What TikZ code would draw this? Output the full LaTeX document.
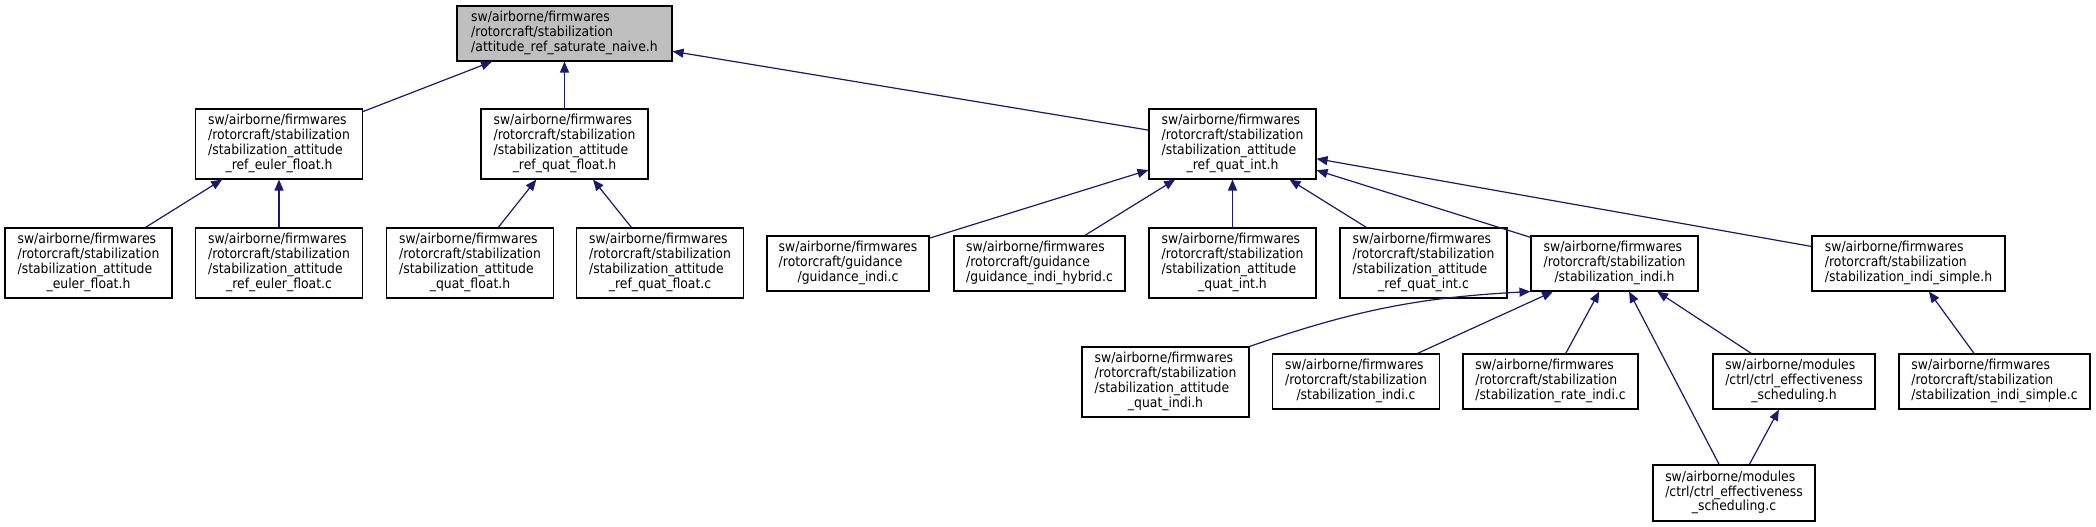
\documentclass[tikz,border=0pt]{standalone}
\usepackage{fontspec}
\setmainfont{DejaVu Sans}[FakeStretch=0.9]
\usetikzlibrary{arrows.meta}
\definecolor{edgeBlue}{HTML}{191970}
\definecolor{rootGrey}{HTML}{BFBFBF}
\newcommand{\fpath}[2]{\begin{tabular}{@{}l@{}}#1\\\multicolumn{1}{@{}c@{}}{#2}\end{tabular}}

\begin{document}
\begin{tikzpicture}[x=1pt, y=-1pt,
    filenode/.style={
      rectangle, draw=black, line width=1.1pt, fill=white, inner sep=0pt,
      font=\fontsize{13.8pt}{14.6pt}\selectfont, minimum height=70pt, minimum width=167pt
    },
    shortnode/.style={filenode, minimum height=55pt},
    incarr/.style={-{Triangle[length=11pt,width=9pt]}, draw=edgeBlue, line width=1.2pt}
  ]
  \useasboundingbox (0,0) rectangle (2096,527);

  % top
  \node[shortnode, fill=rootGrey, minimum width=215pt] (root) at (564.5,33.5)
    {\fpath{sw/airborne/firmwares\\/rotorcraft/stabilization}{/attitude\_ref\_saturate\_naive.h}};

  % second row
  \node[filenode] (erh) at (279,144)
    {\fpath{sw/airborne/firmwares\\/rotorcraft/stabilization\\/stabilization\_attitude}{\_ref\_euler\_float.h}};
  \node[filenode] (qfh) at (564.5,144)
    {\fpath{sw/airborne/firmwares\\/rotorcraft/stabilization\\/stabilization\_attitude}{\_ref\_quat\_float.h}};
  \node[filenode] (rqih) at (1232.5,144)
    {\fpath{sw/airborne/firmwares\\/rotorcraft/stabilization\\/stabilization\_attitude}{\_ref\_quat\_int.h}};

  % third row
  \node[filenode] (efh) at (88.5,263)
    {\fpath{sw/airborne/firmwares\\/rotorcraft/stabilization\\/stabilization\_attitude}{\_euler\_float.h}};
  \node[filenode] (refc) at (279,263)
    {\fpath{sw/airborne/firmwares\\/rotorcraft/stabilization\\/stabilization\_attitude}{\_ref\_euler\_float.c}};
  \node[filenode] (qflh) at (470,263)
    {\fpath{sw/airborne/firmwares\\/rotorcraft/stabilization\\/stabilization\_attitude}{\_quat\_float.h}};
  \node[filenode] (rqfc) at (660,263)
    {\fpath{sw/airborne/firmwares\\/rotorcraft/stabilization\\/stabilization\_attitude}{\_ref\_quat\_float.c}};
  \node[shortnode, minimum width=162pt] (gic) at (848,263.5)
    {\fpath{sw/airborne/firmwares\\/rotorcraft/guidance}{/guidance\_indi.c}};
  \node[shortnode, minimum width=171pt] (gihc) at (1039.5,263.5)
    {\fpath{sw/airborne/firmwares\\/rotorcraft/guidance}{/guidance\_indi\_hybrid.c}};
  \node[filenode] (qih) at (1232.5,263)
    {\fpath{sw/airborne/firmwares\\/rotorcraft/stabilization\\/stabilization\_attitude}{\_quat\_int.h}};
  \node[filenode] (rqic) at (1423.5,263)
    {\fpath{sw/airborne/firmwares\\/rotorcraft/stabilization\\/stabilization\_attitude}{\_ref\_quat\_int.c}};
  \node[shortnode] (sih) at (1614.5,263.5)
    {\fpath{sw/airborne/firmwares\\/rotorcraft/stabilization}{/stabilization\_indi.h}};
  \node[shortnode, minimum width=193pt] (sish) at (1908.5,263.5)
    {\fpath{sw/airborne/firmwares\\/rotorcraft/stabilization}{/stabilization\_indi\_simple.h}};

  % fourth row
  \node[filenode] (qindih) at (1165.5,382)
    {\fpath{sw/airborne/firmwares\\/rotorcraft/stabilization\\/stabilization\_attitude}{\_quat\_indi.h}};
  \node[shortnode] (sic) at (1356,381.5)
    {\fpath{sw/airborne/firmwares\\/rotorcraft/stabilization}{/stabilization\_indi.c}};
  \node[shortnode, minimum width=175pt] (ric) at (1550.5,381.5)
    {\fpath{sw/airborne/firmwares\\/rotorcraft/stabilization}{/stabilization\_rate\_indi.c}};
  \node[shortnode, minimum width=162pt] (cesh) at (1794,381.5)
    {\fpath{sw/airborne/modules\\/ctrl/ctrl\_effectiveness}{\_scheduling.h}};
  \node[shortnode, minimum width=191pt] (sisc) at (1994.5,381.5)
    {\fpath{sw/airborne/firmwares\\/rotorcraft/stabilization}{/stabilization\_indi\_simple.c}};

  % bottom
  \node[shortnode, minimum width=162pt, minimum height=56pt] (cesc) at (1734,493)
    {\fpath{sw/airborne/modules\\/ctrl/ctrl\_effectiveness}{\_scheduling.c}};

  % includes
  \draw[incarr] (erh) -- (root);
  \draw[incarr] (qfh) -- (root);
  \draw[incarr] (rqih) -- (root);
  \draw[incarr] (efh) -- (erh);
  \draw[incarr] (refc) -- (erh);
  \draw[incarr] (qflh) -- (qfh);
  \draw[incarr] (rqfc) -- (qfh);
  \draw[incarr] (gic) -- (rqih);
  \draw[incarr] (gihc) -- (rqih);
  \draw[incarr] (qih) -- (rqih);
  \draw[incarr] (rqic) -- (rqih);
  \draw[incarr] (sih) -- (rqih);
  \draw[incarr] (sish) -- (rqih);
  \draw[incarr] (qindih.north east) to[bend left=8] (sih.south west);
  \draw[incarr] (sic) -- (sih);
  \draw[incarr] (ric) -- (sih);
  \draw[incarr] (cesc) -- (sih);
  \draw[incarr] (cesh) -- (sih);
  \draw[incarr] (cesc) -- (cesh);
  \draw[incarr] (sisc) -- (sish);
\end{tikzpicture}
\end{document}
